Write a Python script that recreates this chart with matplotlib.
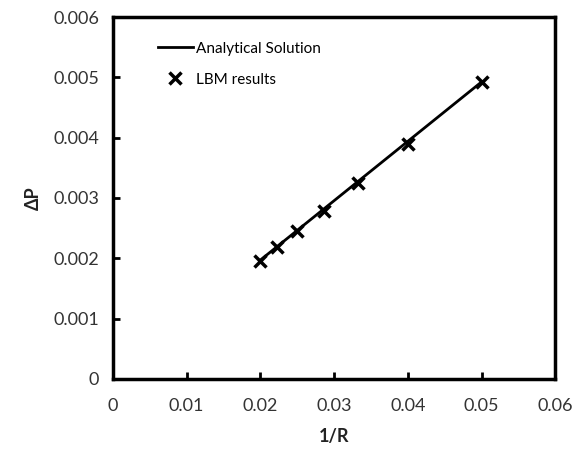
import numpy as np
import matplotlib
matplotlib.use("Agg")
import matplotlib.pyplot as plt

plt.rcParams['font.family'] = ['Lato', 'DejaVu Sans']

# analytical line end points and LBM data
line_x = [0.02, 0.05]
line_y = [0.00197, 0.004925]
inv_r = [0.02, 0.0222, 0.025, 0.0286, 0.0333, 0.04, 0.05]
dp_lbm = [0.00195, 0.00218, 0.00245, 0.00279, 0.00325, 0.0039, 0.00492]

xticks = [0, 0.01, 0.02, 0.03, 0.04, 0.05, 0.06]
yticks = [0, 0.001, 0.002, 0.003, 0.004, 0.005, 0.006]

fig = plt.figure(figsize=(5.79, 4.51), dpi=100)
ax = fig.add_axes([0.195, 0.160, 0.764, 0.802])

ax.plot(line_x, line_y, color='black', lw=2, label='Analytical Solution')
ax.plot(inv_r, dp_lbm, 'x', color='black', ms=9, mew=2.5, label='LBM results')

ax.set_xlim(0, 0.06)
ax.set_ylim(0, 0.006)
ax.set_xticks(xticks)
ax.set_yticks(yticks)
ax.set_xticklabels([f"{v:g}" for v in xticks])
ax.set_yticklabels(["0" if v == 0 else f"{v:.3f}" for v in yticks])
ax.tick_params(direction='in', length=5, width=2, labelsize=13, colors='black', labelcolor='#333333')
ax.tick_params(axis='x', pad=14)
ax.tick_params(axis='y', pad=10)
for s in ax.spines.values():
    s.set_linewidth(2.5)

ax.set_xlabel('1/R', fontsize=13, fontweight='bold', labelpad=10, color='#222222')
ax.set_ylabel('ΔP', fontsize=13, fontweight='bold', labelpad=8, color='#222222')

ax.legend(loc='upper left', bbox_to_anchor=(0.07, 0.97), frameon=False, fontsize=11,
          handlelength=2.3, handletextpad=0.2, labelspacing=1.1)

fig.savefig('out.png', dpi=100)
